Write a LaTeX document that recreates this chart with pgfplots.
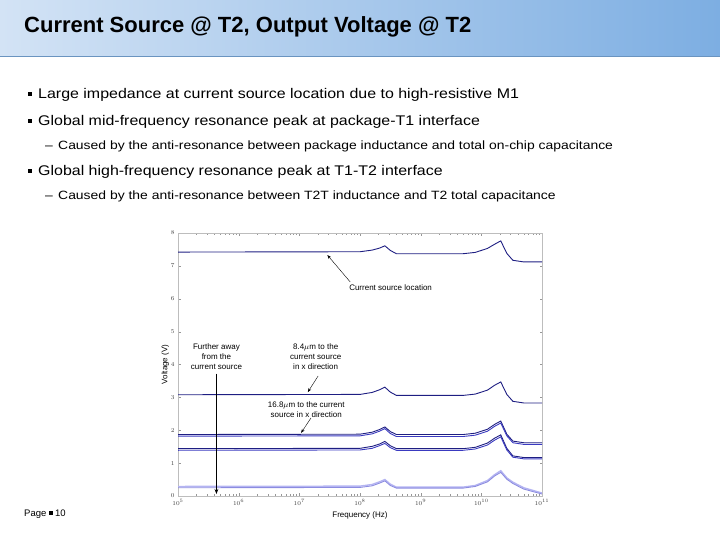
\documentclass[border=0pt]{standalone}
\usepackage{pgfplots}
\pgfplotsset{compat=1.18}
\usepackage{pgfplotstable}
\usepackage{fontspec}
\setmainfont{Liberation Sans}
\usetikzlibrary{arrows.meta}

\definecolor{hdrL}{HTML}{D3E3F5}
\definecolor{hdrR}{HTML}{7DAEE2}
\definecolor{navy}{HTML}{1E1E82}
\definecolor{mblue}{HTML}{3A3AC0}
\definecolor{lblue}{HTML}{8C8CE0}
\definecolor{llblue}{HTML}{B4B4F2}
\definecolor{frame}{HTML}{BDBDBD}

% wide-set slide text
\newcommand{\main}[1]{\scalebox{1.14}[1]{\fontsize{14}{17}\selectfont #1}}
\newcommand{\sub}[1]{\scalebox{1.16}[1]{\fontsize{12}{15}\selectfont #1}}

% voltage at T2 vs frequency
\pgfplotstableread{
f        v1    v2    v3a   v3b   v4a   v4b   v5a   v5b
1e5      7.42  3.08  1.87  1.82  1.44  1.39  0.29  0.25
1e8      7.43  3.09  1.88  1.83  1.45  1.40  0.30  0.26
1.585e8  7.48  3.15  1.94  1.89  1.51  1.45  0.35  0.31
2.09e8   7.54  3.23  2.02  1.97  1.58  1.53  0.43  0.39
2.57e8   7.61  3.31  2.10  2.05  1.66  1.60  0.50  0.46
3.16e8   7.47  3.16  1.96  1.90  1.53  1.47  0.36  0.32
3.98e8   7.37  3.06  1.87  1.81  1.44  1.39  0.27  0.24
5.01e9   7.37  3.06  1.87  1.81  1.44  1.39  0.27  0.24
7.94e9   7.41  3.10  1.91  1.85  1.48  1.43  0.32  0.29
1.26e10  7.53  3.22  2.03  1.97  1.61  1.55  0.47  0.43
1.66e10  7.66  3.37  2.18  2.12  1.76  1.70  0.65  0.61
2.09e10  7.76  3.47  2.28  2.22  1.86  1.80  0.77  0.72
2.63e10  7.38  3.09  1.88  1.83  1.45  1.40  0.55  0.51
3.31e10  7.17  2.88  1.67  1.62  1.22  1.18  0.42  0.38
5.01e10  7.12  2.83  1.62  1.57  1.17  1.13  0.25  0.21
1e11     7.12  2.83  1.62  1.57  1.17  1.13  0.09  0.06
}\volt

\begin{document}
\begin{tikzpicture}
\path[use as bounding box] (0,0) rectangle (720pt,540pt);
% header band
\shade[left color=hdrL, right color=hdrR] (0,483pt) rectangle (720pt,540pt);
\draw[hdrR!85!black, line width=1pt] (0,483pt) -- (720pt,483pt);
\node[anchor=west, inner sep=0, font=\fontsize{22}{26}\selectfont\bfseries] at (24pt,513pt) {Current Source @ T2, Output Voltage @ T2};

% bullets
\fill (28pt,444pt) rectangle (32pt,448pt);
\node[anchor=base west, inner sep=0] at (38pt,441.5pt) {\main{Large impedance at current source location due to high-resistive M1}};
\fill (28pt,417pt) rectangle (32pt,421pt);
\node[anchor=base west, inner sep=0] at (38pt,414.5pt) {\main{Global mid-frequency resonance peak at package-T1 interface}};
\node[anchor=base west, inner sep=0] at (45pt,390pt) {\sub{--}};
\node[anchor=base west, inner sep=0] at (58pt,390pt) {\sub{Caused by the anti-resonance between package inductance and total on-chip capacitance}};
\fill (28pt,367pt) rectangle (32pt,371pt);
\node[anchor=base west, inner sep=0] at (38pt,364.5pt) {\main{Global high-frequency resonance peak at T1-T2 interface}};
\node[anchor=base west, inner sep=0] at (45pt,340pt) {\sub{--}};
\node[anchor=base west, inner sep=0] at (58pt,340pt) {\sub{Caused by the anti-resonance between T2T inductance and T2 total capacitance}};

% footer
\node[anchor=base west, inner sep=0, font=\fontsize{9.5}{11}\selectfont] at (24pt,23.5pt) {Page \raisebox{1.5pt}{\rule{3.5pt}{3.5pt}} 10};

\begin{axis}[
    at={(178pt,44pt)}, anchor=south west,
    scale only axis, width=364pt, height=263pt,
    xmode=log, xmin=1e5, xmax=1e11,
    ymin=0, ymax=8, ytick={0,...,8},
    axis line style={frame},
    tick style={frame!80!black},
    major tick length=2.5pt, minor tick length=1.5pt,
    tick align=inside,
    ticklabel style={font=\fontsize{6}{7}\selectfont, color=black!75},
    xlabel={Frequency (Hz)}, ylabel={Voltage (V)},
    label style={font=\fontsize{8}{9}\selectfont},
    xlabel style={yshift=0pt}, ylabel style={yshift=-5pt},
    clip=false,
    every axis plot/.append style={line width=0.9pt},
]
\addplot[navy] table[x=f, y=v1] {\volt};
\addplot[navy] table[x=f, y=v2] {\volt};
\addplot[navy] table[x=f, y=v3a] {\volt};
\addplot[mblue] table[x=f, y=v3b] {\volt};
\addplot[navy] table[x=f, y=v4a] {\volt};
\addplot[mblue] table[x=f, y=v4b] {\volt};
\addplot[llblue, line width=1.4pt] table[x=f, y=v5a] {\volt};
\addplot[lblue] table[x=f, y=v5b] {\volt};

% annotations
\node[anchor=west, inner sep=0, font=\fontsize{8}{10}\selectfont] at (axis cs:6.6e7,6.33) {Current source location};
\draw[-{Stealth[length=4pt]}, thin] (axis cs:6.9e7,6.51) -- (axis cs:2.9e7,7.33);

\node[align=center, inner sep=0, font=\fontsize{8}{10}\selectfont] at (axis cs:4.3e5,4.23) {Further away\\from the\\current source};
\draw[-{Stealth[length=5pt]}, line width=1.1pt] (axis cs:4.3e5,3.72) -- (axis cs:4.3e5,0.06);

\node[align=center, inner sep=0, font=\fontsize{8}{10}\selectfont] at (axis cs:1.86e7,4.23) {8.4$\mu$m to the\\current source\\in x direction};
\draw[-{Stealth[length=4pt]}, thin] (axis cs:2.04e7,3.65) -- (axis cs:1.38e7,3.16);

\node[align=center, inner sep=0, font=\fontsize{8}{10}\selectfont] at (axis cs:1.3e7,2.63) {16.8$\mu$m to the current\\source in x direction};
\draw[-{Stealth[length=4pt]}, thin] (axis cs:1.55e7,2.37) -- (axis cs:1.07e7,1.92);
\end{axis}
\end{tikzpicture}
\end{document}
